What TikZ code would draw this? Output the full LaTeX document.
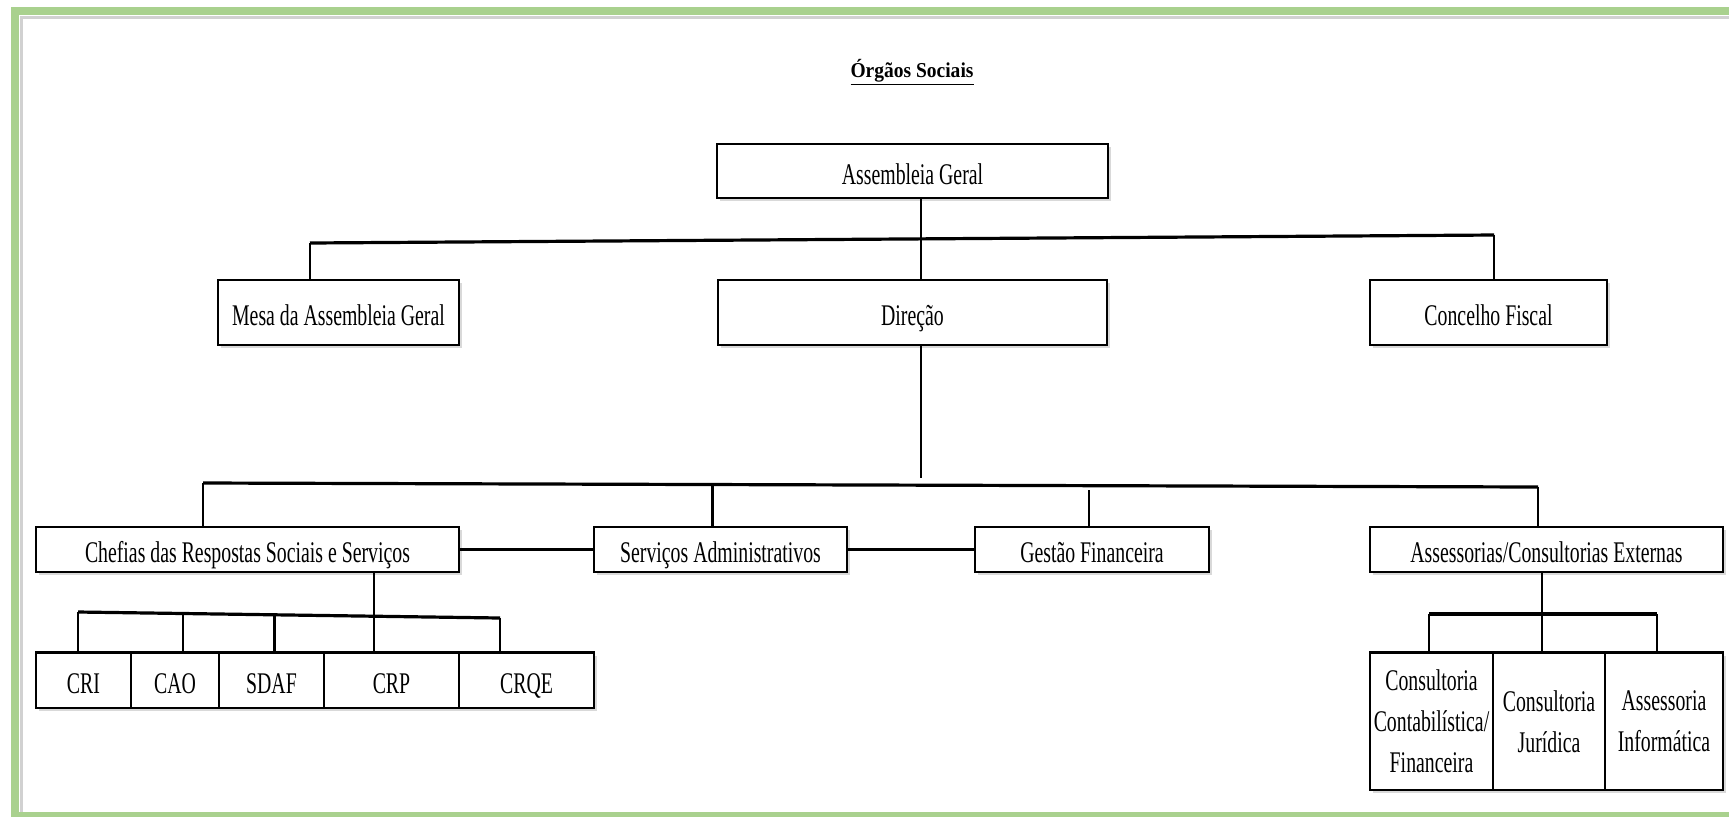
\documentclass[tikz,border=0pt]{standalone}
\usepackage{fontspec}
\setmainfont{Liberation Serif}[FakeStretch=0.66]
\newfontfamily\titlefont{Liberation Serif}[FakeStretch=0.92]
\usetikzlibrary{shadows}
\definecolor{frgreen}{RGB}{169,209,142}

\begin{document}
\begin{tikzpicture}[x=0.5pt,y=-0.5pt,
  font=\fontsize{15}{20.5}\selectfont,
  caixa/.style 2 args={draw,line width=0.75pt,inner sep=0pt,fill=white,align=center,
    minimum width=#1,minimum height=#2,text height=13pt,text depth=0pt,
    drop shadow={shadow xshift=1.5pt,shadow yshift=-1.5pt,opacity=0.3}},
  liga/.style={line width=1.1pt},
  barra/.style={line width=1.6pt}]
  \useasboundingbox (0,0) rectangle (1729,816);
  \draw[frgreen,line width=4pt] (15,11) rectangle (1745,816);
  \draw[black!18,line width=1.5pt] (21,812) -- (21,17) -- (1729,17);

  \node[anchor=base] (titulo) at (912,77) {\titlefont\fontsize{10.6}{12}\selectfont\bfseries\underline{Órgãos Sociais}};

  \node[caixa={195.5pt}{27pt}] (ag) at (912.5,171) {Assembleia Geral};
  \node[caixa={120.5pt}{32.5pt}] (mesa) at (338.5,312.5) {Mesa da Assembleia Geral};
  \node[caixa={194.5pt}{32.5pt}] (dir) at (912.5,312.5) {Direção};
  \node[caixa={118.5pt}{32.5pt}] (cf) at (1488.5,312.5) {Concelho Fiscal};

  \node[caixa={211.5pt}{22.5pt}] (chef) at (247.5,549.5) {Chefias das Respostas Sociais e Serviços};
  \node[caixa={126.5pt}{22.5pt}] (sa) at (720.5,549.5) {Serviços Administrativos};
  \node[caixa={117pt}{22.5pt}] (gf) at (1092,549.5) {Gestão Financeira};
  \node[caixa={176.5pt}{22.5pt}] (ace) at (1546.5,549.5) {Assessorias/Consultorias Externas};

  \node[caixa={47.5pt}{27.5pt}] (cri) at (83.5,680.5) {CRI};
  \node[caixa={44pt}{27.5pt}] (cao) at (175,680.5) {CAO};
  \node[caixa={52.5pt}{27.5pt}] (sdaf) at (271.5,680.5) {SDAF};
  \node[caixa={67.5pt}{27.5pt}] (crp) at (391.5,680.5) {CRP};
  \node[caixa={67.5pt}{27.5pt}] (crqe) at (526.5,680.5) {CRQE};

  \node[caixa={61.5pt}{68.5pt},text height={},text depth={}] (cons1) at (1431.5,721.5) {Consultoria\\Contabilística/\\Financeira};
  \node[caixa={56pt}{68.5pt},text height={},text depth={}] (cons2) at (1549,721.5) {Consultoria\\Jurídica};
  \node[caixa={59pt}{68.5pt},text height={},text depth={}] (cons3) at (1664,721.5) {Assessoria\\Informática};

  \coordinate (b1l) at (310,243);
  \coordinate (b1r) at (1494,235);
  \draw[barra] (b1l) -- (b1r);
  \draw[liga] (b1l) -- (b1l |- mesa.north);
  \draw[liga] (b1r) -- (b1r |- cf.north);
  \draw[liga] ([xshift=4.25pt]ag.south) -- ([xshift=4.25pt]dir.north);

  \coordinate (d2) at (921,478);
  \draw[liga] ([xshift=4.25pt]dir.south) -- (d2);
  \coordinate (b2l) at (203,483);
  \coordinate (b2r) at (1538,487);
  \draw[barra] (b2l) -- (b2r);
  \draw[liga] (b2l) -- (b2l |- chef.north);
  \coordinate (b2sa) at (712.5,485);
  \draw[liga] (b2sa) -- (b2sa |- sa.north);
  \coordinate (b2gf) at (1089,490);
  \draw[liga] (b2gf) -- (b2gf |- gf.north);
  \draw[liga] (b2r) -- (b2r |- ace.north);
  \draw[barra] (chef.east) -- (sa.west);
  \draw[barra] (sa.east) -- (gf.west);

  \coordinate (b3l) at (78,612);
  \coordinate (b3r) at (500,618);
  \draw[barra] (b3l) -- (b3r);
  \draw[liga] ([xshift=63.25pt]chef.south) -- ([xshift=-8.75pt]crp.north);
  \foreach \x/\y/\n in {78/612/cri,183/613.5/cao,274.5/614.8/sdaf,500/618/crqe}
    \draw[liga] (\x,\y) -- (\n.north -| \x,\y);
  \draw[barra] (cri.north west) -- (crqe.north east);

  \coordinate (b4l) at (1429,614);
  \coordinate (b4r) at (1657,614);
  \draw[barra] (b4l) -- (b4r);
  \draw[liga] ([xshift=-2.25pt]ace.south) -- ([xshift=-2.25pt]ace.south |- cons2.north);
  \draw[liga] (b4l) -- (b4l |- cons1.north);
  \draw[liga] (b4r) -- (b4r |- cons3.north);
  \draw[barra] (cons1.north west) -- (cons3.north east);
\end{tikzpicture}
\end{document}
